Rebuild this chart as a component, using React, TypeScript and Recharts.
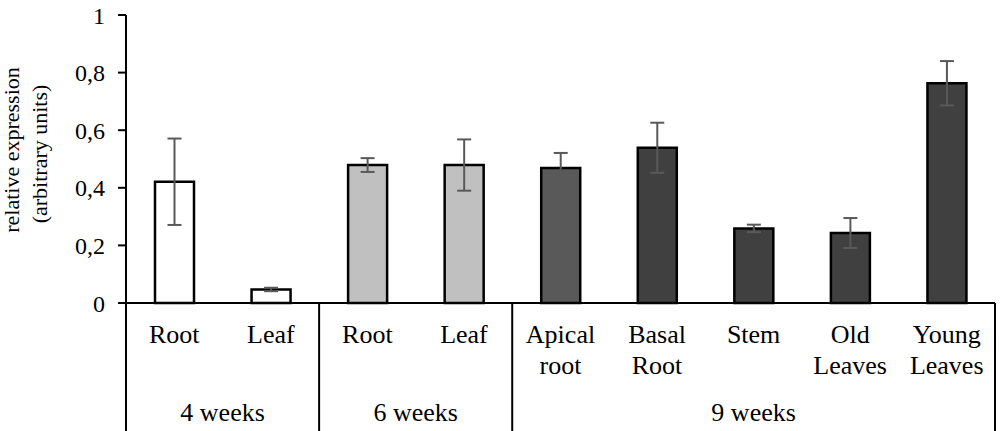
import React from 'react';
import { BarChart, Bar, XAxis, YAxis, ErrorBar, Cell } from 'recharts';

const labelLine1 = ['Root', 'Leaf', 'Root', 'Leaf', 'Apical', 'Basal', 'Stem', 'Old', 'Young'];
const labelLine2 = ['', '', '', '', 'root', 'Root', '', 'Leaves', 'Leaves'];
const groups = ['4 weeks', '4 weeks', '6 weeks', '6 weeks', '9 weeks', '9 weeks', '9 weeks', '9 weeks', '9 weeks'];
const values = [0.421, 0.047, 0.479, 0.479, 0.469, 0.539, 0.259, 0.243, 0.763];
const errors = [0.150, 0.006, 0.024, 0.089, 0.052, 0.087, 0.013, 0.052, 0.077];
const fills = ['#FFFFFF', '#FFFFFF', '#C0C0C0', '#C0C0C0', '#595959', '#404040', '#404040', '#404040', '#404040'];
const yTicks = [0, 0.2, 0.4, 0.6, 0.8, 1];

const data = values.map((v, i) => ({ id: `c${i}`, value: v, err: errors[i] }));

const FONT = '"Liberation Serif", "Times New Roman", serif';

const XTick = (props: any) => {
  const { x, y, payload, index } = props;
  const i = index ?? payload.index;
  const half = payload.offset ?? 48.3;
  const bottom = 431;
  const els: any[] = [];
  els.push(
    <text key="l1" x={x} y={y + 40} textAnchor="middle" style={{ fontFamily: FONT }} fontSize={26} fill="#000">
      {labelLine1[i]}
    </text>
  );
  if (labelLine2[i]) {
    els.push(
      <text key="l2" x={x} y={y + 71} textAnchor="middle" style={{ fontFamily: FONT }} fontSize={26} fill="#000">
        {labelLine2[i]}
      </text>
    );
  }
  const isGroupStart = i === 0 || groups[i] !== groups[i - 1];
  if (isGroupStart) {
    const count = groups.filter((g) => g === groups[i]).length;
    const left = x - half;
    els.push(<line key="sep" x1={left} x2={left} y1={y} y2={bottom} stroke="#000" strokeWidth={2} />);
    els.push(
      <text key="g" x={left + count * half} y={y + 118} textAnchor="middle" style={{ fontFamily: FONT }} fontSize={26} fill="#000">
        {groups[i]}
      </text>
    );
  }
  if (i === groups.length - 1) {
    els.push(<line key="end" x1={x + half} x2={x + half} y1={y} y2={bottom} stroke="#000" strokeWidth={2} />);
  }
  return <g>{els}</g>;
};

const YLabel = () => (
  <g>
    <text x={19} y={150} transform="rotate(-90, 19, 150)" textAnchor="middle" style={{ fontFamily: FONT }} fontSize={22} fill="#000">
      relative expression
    </text>
    <text x={47} y={154} transform="rotate(-90, 47, 154)" textAnchor="middle" style={{ fontFamily: FONT }} fontSize={22} fill="#000">
      (arbitrary units)
    </text>
  </g>
);

export default function App() {
  return (
    <div style={{ position: 'absolute', left: 0, top: 0, width: 1000, height: 431, background: '#fff', fontFamily: FONT }}>
      <BarChart width={1000} height={431} data={data} margin={{ top: 15, right: 5, bottom: 0, left: 0 }}>
        <XAxis
          dataKey="id"
          type="category"
          interval={0}
          height={128}
          tickLine={false}
          tickSize={0}
          tickMargin={0}
          axisLine={{ stroke: '#000', strokeWidth: 2 }}
          tick={<XTick />}
        />
        <YAxis
          type="number"
          domain={[0, 1]}
          ticks={yTicks}
          width={126}
          tickSize={8}
          tickMargin={13}
          axisLine={{ stroke: '#000', strokeWidth: 2 }}
          tickLine={{ stroke: '#000', strokeWidth: 2 }}
          tickFormatter={(v: number) => String(v).replace('.', ',')}
          tick={{ style: { fontFamily: FONT }, fontSize: 24, fill: '#000' }}
          label={{ content: () => <YLabel /> }}
        />
        <Bar dataKey="value" barSize={39} stroke="#000" strokeWidth={2.5} isAnimationActive={false}>
          {data.map((d, i) => (
            <Cell key={d.id} fill={fills[i]} />
          ))}
          <ErrorBar dataKey="err" direction="y" width={7} stroke="#595959" strokeWidth={2} isAnimationActive={false} />
        </Bar>
      </BarChart>
    </div>
  );
}
